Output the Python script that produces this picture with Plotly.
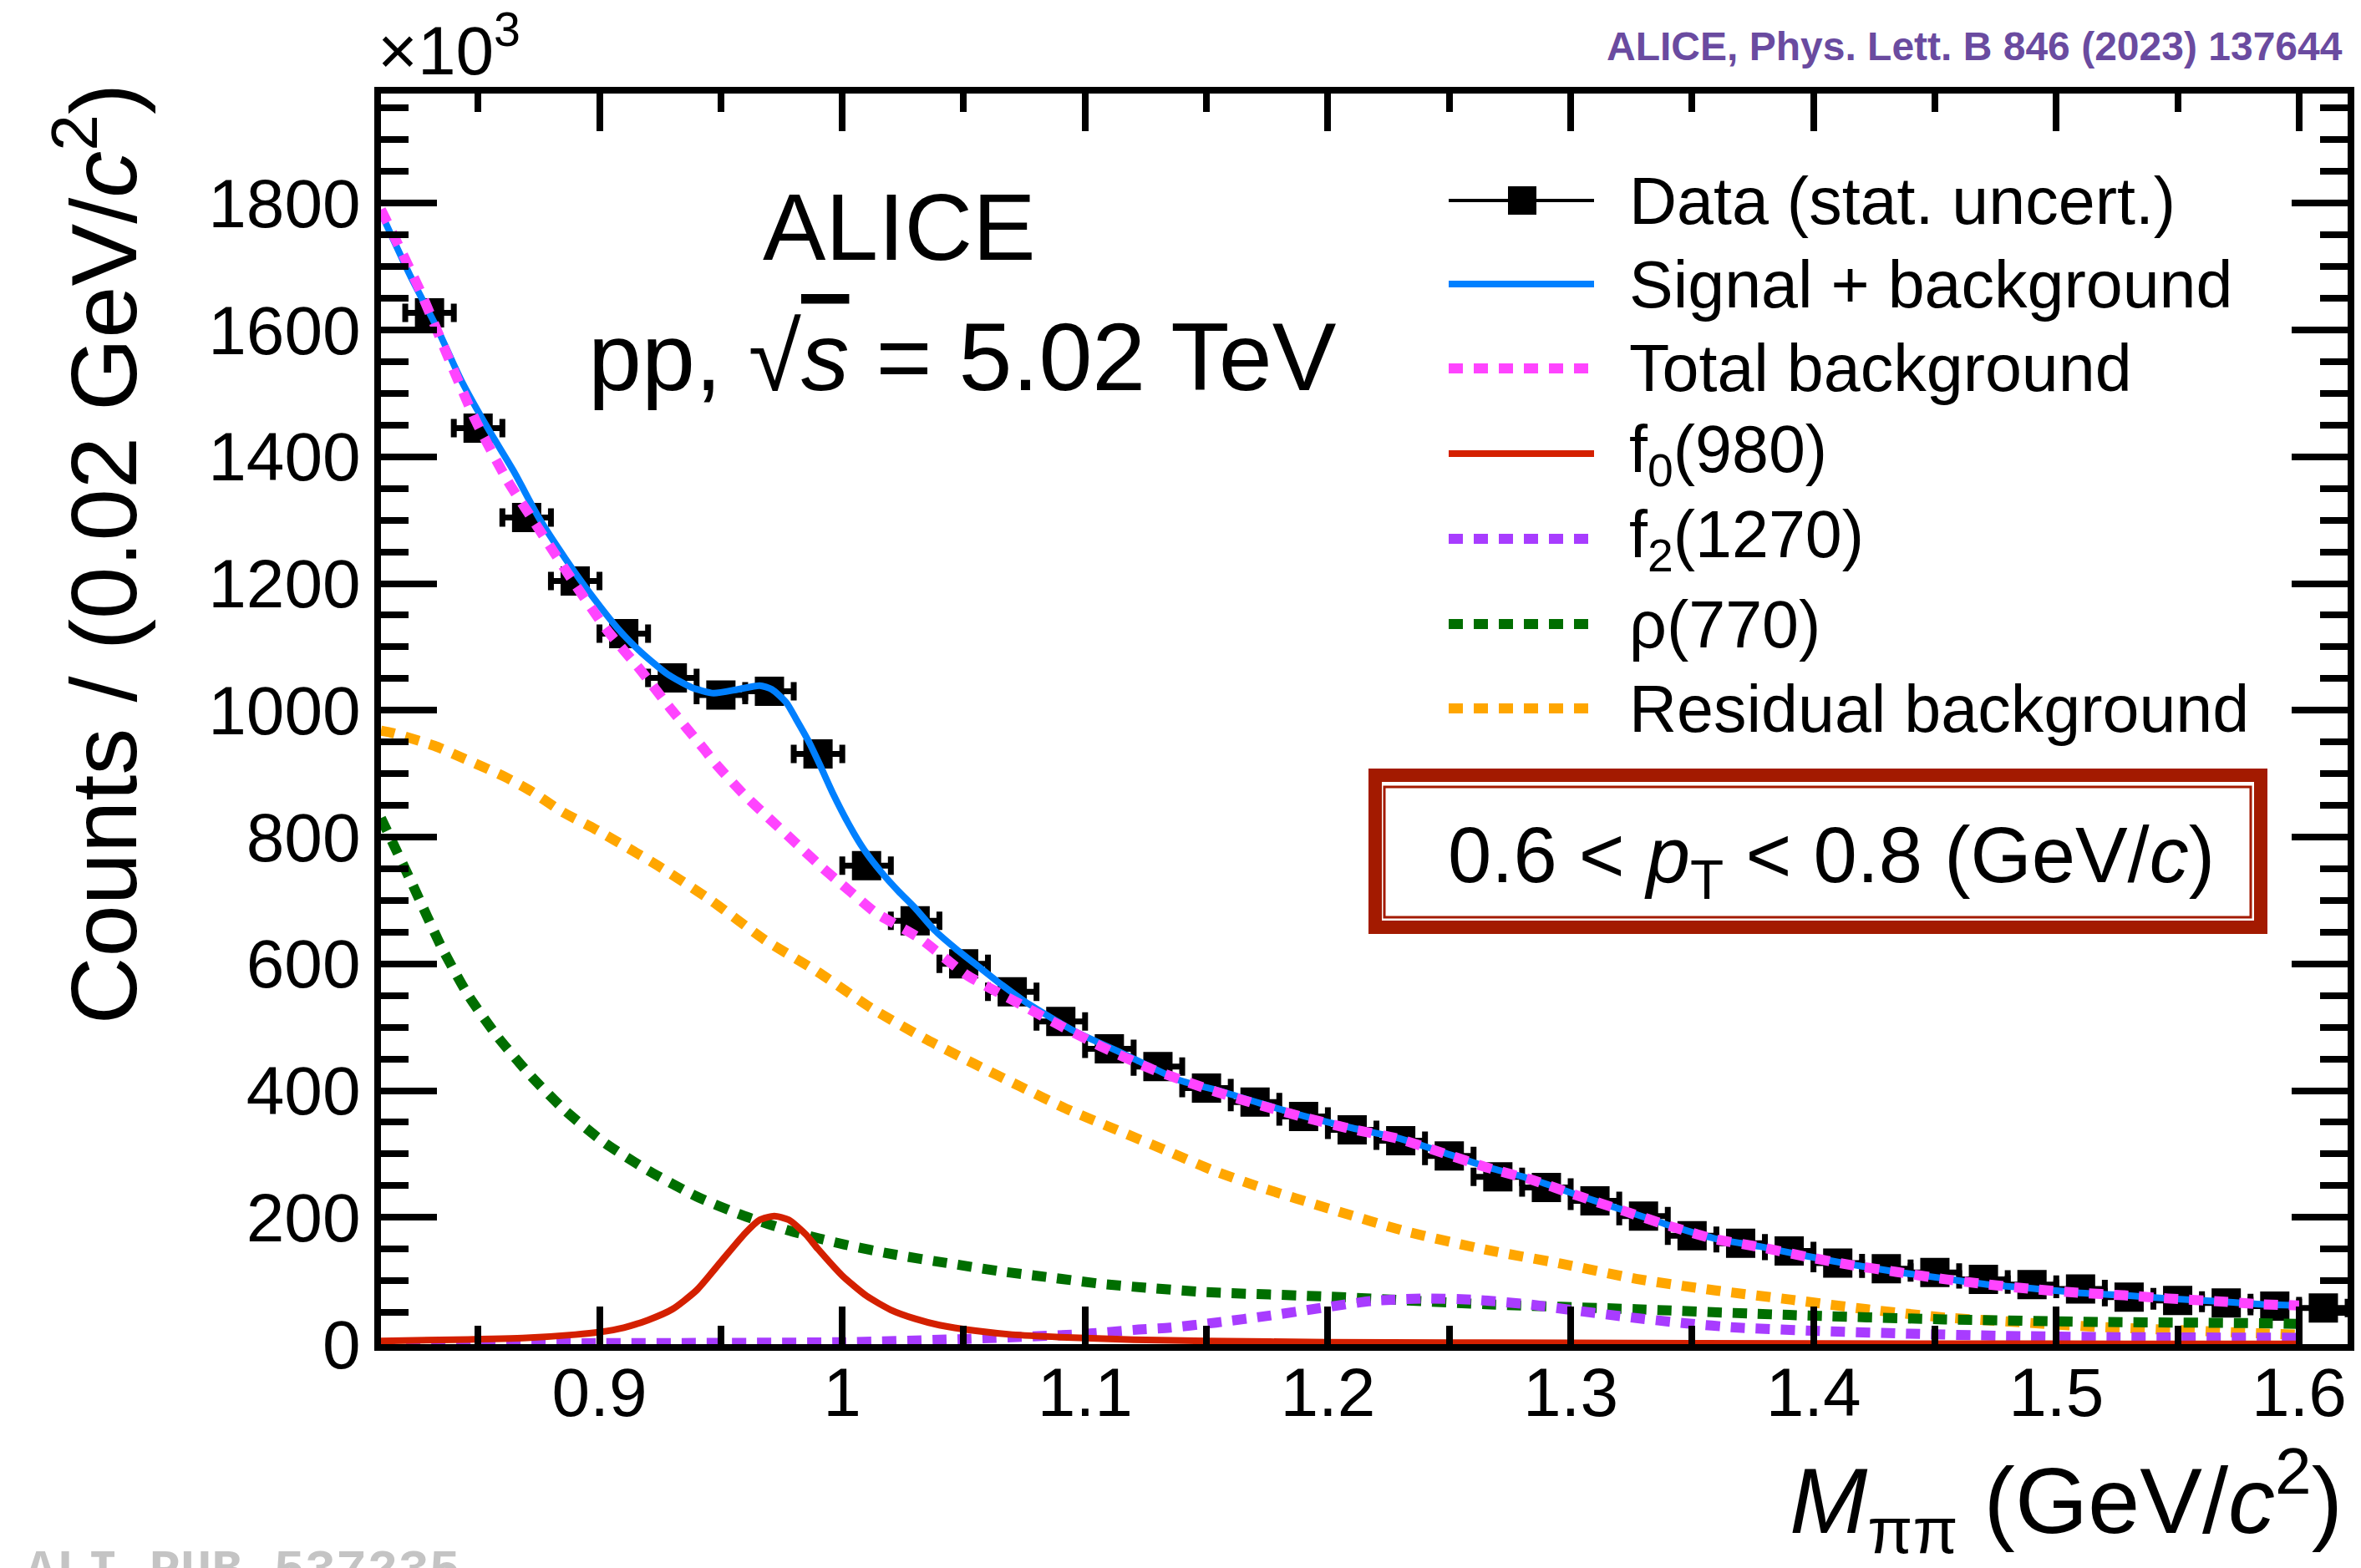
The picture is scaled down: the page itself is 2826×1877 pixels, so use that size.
import plotly.graph_objects as go

# ---------------- values ----------------
DATA_X = [0.83, 0.85, 0.87, 0.89, 0.91, 0.93, 0.95, 0.97, 0.99, 1.01,
          1.03, 1.05, 1.07, 1.09, 1.11, 1.13, 1.15, 1.17, 1.19, 1.21,
          1.23, 1.25, 1.27, 1.29, 1.31, 1.33, 1.35, 1.37, 1.39, 1.41,
          1.43, 1.45, 1.47, 1.49, 1.51, 1.53, 1.55, 1.57, 1.59, 1.61]
DATA_Y = [1627, 1445, 1304, 1204, 1121, 1051, 1024, 1030, 931, 755,
          668, 600, 556, 509, 466, 438, 404, 382, 359, 338,
          321, 297, 264, 247, 226, 202, 171, 159, 147, 128,
          119, 113, 102, 94, 87, 74, 69, 65, 60, 57]
BIN_HALF_WIDTH = 0.01

SIGBKG_X = [0.810, 0.822, 0.833, 0.843, 0.854, 0.865, 0.875, 0.886, 0.897, 0.908,
            0.917, 0.928, 0.938, 0.947, 0.957, 0.966, 0.971, 0.977, 0.981, 0.986,
            0.991, 0.996, 1.003, 1.009, 1.016, 1.023, 1.030, 1.038, 1.047, 1.056,
            1.066, 1.075, 1.095, 1.117, 1.139, 1.154, 1.173, 1.191, 1.210, 1.229,
            1.247, 1.266, 1.285, 1.303, 1.322, 1.341, 1.359, 1.378, 1.397, 1.415,
            1.434, 1.453, 1.472, 1.490, 1.509, 1.528, 1.546, 1.565, 1.584, 1.600]
SIGBKG_Y = [1785, 1686, 1604, 1521, 1445, 1375, 1304, 1239, 1180, 1127,
            1092, 1057, 1036, 1027, 1033, 1039, 1033, 1012, 986, 952,
            912, 870, 818, 780, 745, 715, 688, 653, 623, 596,
            566, 541, 495, 456, 416, 401, 379, 359, 341, 325,
            303, 279, 259, 235, 211, 187, 167, 154, 139, 126,
            114, 104, 94, 88, 81, 77, 72, 68, 63, 61]

TOTBKG_X = [0.810, 0.826, 0.839, 0.849, 0.862, 0.874, 0.889, 0.903, 0.917, 0.929,
            0.943, 0.948, 0.959, 0.970, 0.981, 0.992, 1.003, 1.014, 1.032, 1.051,
            1.071, 1.091, 1.108, 1.128, 1.154, 1.173, 1.191, 1.210, 1.229, 1.247,
            1.266, 1.285, 1.303, 1.322, 1.341, 1.359, 1.378, 1.397, 1.415, 1.434,
            1.453, 1.472, 1.490, 1.509, 1.528, 1.546, 1.565, 1.584, 1.600]
TOTBKG_Y = [1790, 1663, 1545, 1457, 1363, 1292, 1204, 1127, 1063, 1004,
            939, 915, 869, 829, 790, 751, 715, 680, 640, 583,
            541, 500, 467, 433, 398, 376, 357, 339, 324, 302,
            278, 258, 234, 210, 186, 166, 153, 138, 125, 114,
            103, 94, 87, 81, 77, 72, 68, 63, 61]

F0_X = [0.810, 0.840, 0.870, 0.890, 0.900, 0.910, 0.920, 0.930, 0.940, 0.950,
        0.960, 0.966, 0.972, 0.978, 0.985, 0.990, 1.000, 1.010, 1.020, 1.030,
        1.040, 1.055, 1.070, 1.090, 1.120, 1.150, 1.200, 1.300, 1.400, 1.500, 1.600]
F0_Y = [5, 7, 10, 15, 19, 26, 38, 55, 85, 130,
        175, 196, 202, 196, 173, 150, 108, 76, 54, 40,
        30, 21, 15, 11, 7, 5, 3, 2, 1, 0.5, 0.3]

F2_X = [0.810, 0.900, 1.000, 1.050, 1.100, 1.122, 1.135, 1.154, 1.176, 1.197,
        1.218, 1.240, 1.260, 1.282, 1.302, 1.325, 1.347, 1.369, 1.400, 1.434,
        1.478, 1.524, 1.600]
F2_Y = [1, 1.5, 3, 8, 16, 23, 26, 34, 45, 57,
        68, 72, 70, 63, 53, 42, 33, 26, 21, 17,
        13, 11, 10]

RHO_X = [0.810, 0.823, 0.835, 0.846, 0.858, 0.872, 0.886, 0.902, 0.920, 0.940,
         0.959, 0.980, 1.001, 1.022, 1.043, 1.065, 1.086, 1.107, 1.128, 1.150,
         1.200, 1.265, 1.327, 1.390, 1.454, 1.518, 1.584, 1.600]
RHO_Y = [830, 725, 626, 550, 485, 422, 368, 318, 274, 233,
         203, 177, 157, 141, 128, 115, 105, 95, 88, 82,
         75, 63, 55, 46, 39, 35, 33, 32]

RESID_X = [0.810, 0.815, 0.832, 0.843, 0.861, 0.872, 0.885, 0.898, 0.924, 0.946,
           0.968, 0.990, 1.012, 1.034, 1.054, 1.073, 1.093, 1.113, 1.133, 1.152,
           1.171, 1.202, 1.233, 1.265, 1.296, 1.327, 1.359, 1.391, 1.422, 1.454,
           1.487, 1.518, 1.551, 1.584, 1.600]
RESID_Y = [968, 964, 944, 926, 895, 872, 839, 813, 755, 700,
           638, 587, 530, 482, 443, 407, 370, 338, 306, 275,
           249, 212, 177, 149, 127, 103, 85, 70, 55, 42,
           34, 27, 22, 17, 15]

X_TICKS = [0.9, 1.0, 1.1, 1.2, 1.3, 1.4, 1.5, 1.6]
X_TICK_LABELS = ["0.9", "1", "1.1", "1.2", "1.3", "1.4", "1.5", "1.6"]
Y_TICKS = [0, 200, 400, 600, 800, 1000, 1200, 1400, 1600, 1800]
Y_TICK_LABELS = ["0", "200", "400", "600", "800", "1000", "1200", "1400", "1600", "1800"]

LEGEND_LABELS = ["Data (stat. uncert.)", "Signal + background", "Total background",
                 "f<sub>0</sub>(980)", "f<sub>2</sub>(1270)", "ρ(770)", "Residual background"]

# ---------------- style ----------------
FONT = "Liberation Sans, Arial, Helvetica, sans-serif"
COL_BLUE = "#0080ff"
COL_PINK = "#ff44ff"
COL_RED = "#d42000"
COL_PURPLE = "#a83cff"
COL_GREEN = "#006e00"
COL_ORANGE = "#ffa600"
COL_BOX = "#a31a00"
COL_REF = "#6a4ba0"
DOT = "17px,13px"

W, H = 2826, 1877
ML, MR, MT, MB = 456, 16, 112, 268
PW = W - ML - MR
PH = H - MT - MB


def px(X):
    return (X - ML) / PW


def py(Y):
    return (H - MB - Y) / PH


fig = go.Figure()

fig.add_trace(go.Scatter(
    x=DATA_X, y=DATA_Y, mode="markers", name=LEGEND_LABELS[0],
    marker=dict(symbol="square", size=35, color="black", line=dict(width=0)),
    error_x=dict(type="constant", value=BIN_HALF_WIDTH, color="black", thickness=7, width=11),
    cliponaxis=False, showlegend=False))


def curve(xs, ys, name, color, width, dash):
    fig.add_trace(go.Scatter(
        x=xs, y=ys, mode="lines", name=name, showlegend=False,
        line=dict(color=color, width=width, dash=dash, shape="spline", smoothing=0.6)))


curve(RESID_X, RESID_Y, LEGEND_LABELS[6], COL_ORANGE, 12, DOT)
curve(RHO_X, RHO_Y, LEGEND_LABELS[5], COL_GREEN, 12, DOT)
curve(F2_X, F2_Y, LEGEND_LABELS[4], COL_PURPLE, 12, DOT)
curve(F0_X, F0_Y, LEGEND_LABELS[3], COL_RED, 8, "solid")
curve(SIGBKG_X, SIGBKG_Y, LEGEND_LABELS[1], COL_BLUE, 8, "solid")
curve(TOTBKG_X, TOTBKG_Y, LEGEND_LABELS[2], COL_PINK, 12, DOT)

# ---------------- axes ----------------
fig.update_xaxes(
    range=[0.81, 1.62], showline=True, linewidth=8, linecolor="black", mirror="allticks",
    ticks="inside", ticklen=45, tickwidth=8, tickcolor="black",
    tickmode="array", tickvals=X_TICKS, ticktext=X_TICK_LABELS,
    tickfont=dict(size=82, family=FONT, color="black"), ticklabelstandoff=-20,
    showgrid=False, zeroline=False,
    minor=dict(ticks="inside", ticklen=22, tickwidth=8, tickcolor="black",
               tickmode="linear", tick0=0.8, dtick=0.05, showgrid=False))
fig.update_yaxes(
    range=[0, 1973], showline=True, linewidth=8, linecolor="black", mirror="allticks",
    ticks="inside", ticklen=67, tickwidth=8, tickcolor="black",
    tickmode="array", tickvals=Y_TICKS, ticktext=Y_TICK_LABELS,
    tickfont=dict(size=82, family=FONT, color="black"),
    showgrid=False, zeroline=False,
    minor=dict(ticks="inside", ticklen=33, tickwidth=8, tickcolor="black",
               tickmode="linear", tick0=0, dtick=50, showgrid=False))

# ---------------- legend (drawn) ----------------
LEG_X0, LEG_X1, LEG_TX = 1734, 1908, 1948
LEG_ROWS = [240, 340, 441, 543, 645, 747, 848]
LEG_STYLES = [("black", 4, "solid"), (COL_BLUE, 8, "solid"), (COL_PINK, 12, DOT),
              (COL_RED, 8, "solid"), (COL_PURPLE, 12, DOT), (COL_GREEN, 12, DOT),
              (COL_ORANGE, 12, DOT)]
shapes = []
annotations = []
for row, (col, lw, dash), lab in zip(LEG_ROWS, LEG_STYLES, LEGEND_LABELS):
    shapes.append(dict(type="line", xref="paper", yref="paper",
                       x0=px(LEG_X0), x1=px(LEG_X1), y0=py(row), y1=py(row),
                       line=dict(color=col, width=lw, dash=dash)))
    annotations.append(dict(text=lab, xref="paper", yref="paper", x=px(LEG_TX), y=py(row),
                            xanchor="left", yanchor="middle", showarrow=False,
                            font=dict(size=79, family=FONT, color="black")))
# data marker square in legend
shapes.append(dict(type="rect", xref="paper", yref="paper",
                   x0=px(1805), x1=px(1839), y0=py(LEG_ROWS[0] - 17), y1=py(LEG_ROWS[0] + 17),
                   fillcolor="black", line=dict(width=0)))

# pT box
shapes.append(dict(type="rect", xref="paper", yref="paper",
                   x0=px(1646), x1=px(2706), y0=py(928), y1=py(1110),
                   line=dict(color=COL_BOX, width=16), fillcolor="rgba(0,0,0,0)"))
shapes.append(dict(type="rect", xref="paper", yref="paper",
                   x0=px(1657), x1=px(2694), y0=py(942), y1=py(1098),
                   line=dict(color=COL_BOX, width=3), fillcolor="rgba(0,0,0,0)"))

annotations += [
    dict(text="×10<sup>3</sup>", x=px(450), y=py(108), xanchor="left", yanchor="bottom",
         font=dict(size=82, family=FONT, color="black")),
    dict(text="<b>ALICE, Phys. Lett. B 846 (2023) 137644</b>", x=px(2806), y=py(55),
         xanchor="right", yanchor="middle", font=dict(size=48, family=FONT, color=COL_REF)),
    dict(text="ALICE", x=px(1076), y=py(272), xanchor="center", yanchor="middle",
         font=dict(size=113, family=FONT, color="black")),
    dict(text="pp, √<span style=\"text-decoration:overline\"><i>s</i></span> = 5.02 TeV",
         x=px(1152), y=py(427), xanchor="center", yanchor="middle",
         font=dict(size=115, family=FONT, color="black")),
    dict(text="0.6 &lt; <i>p</i><sub>T</sub> &lt; 0.8 (GeV/<i>c</i>)", x=px(2192), y=py(1030),
         xanchor="center", yanchor="middle", font=dict(size=94, family=FONT, color="black")),
    dict(text="Counts / (0.02 GeV/<i>c</i><sup>2</sup>)", textangle=-90,
         x=px(116), y=py(98), xanchor="center", yanchor="top",
         font=dict(size=112, family=FONT, color="black")),
    dict(text="<i>M</i><sub>ππ</sub> (GeV/<i>c</i><sup>2</sup>)", x=px(2806), y=py(1796),
         xanchor="right", yanchor="middle", font=dict(size=112, family=FONT, color="black")),
    dict(text="<b>ALI-PUB-537235</b>", x=px(28), y=py(1843), xanchor="left", yanchor="top",
         font=dict(size=62, family="Liberation Mono, Courier New, monospace", color="#c4c4c4")),
]
for a in annotations:
    a.setdefault("xref", "paper")
    a.setdefault("yref", "paper")
    a.setdefault("showarrow", False)

fig.update_layout(
    width=W, height=H,
    margin=dict(l=ML, r=MR, t=MT, b=MB, pad=0, autoexpand=False),
    plot_bgcolor="white", paper_bgcolor="white", showlegend=False,
    font=dict(family=FONT, color="black"),
    shapes=shapes, annotations=annotations)

fig.write_html("out.html", config={"displayModeBar": False},
               post_script="document.body.style.margin='0px';document.body.style.overflow='hidden';")
